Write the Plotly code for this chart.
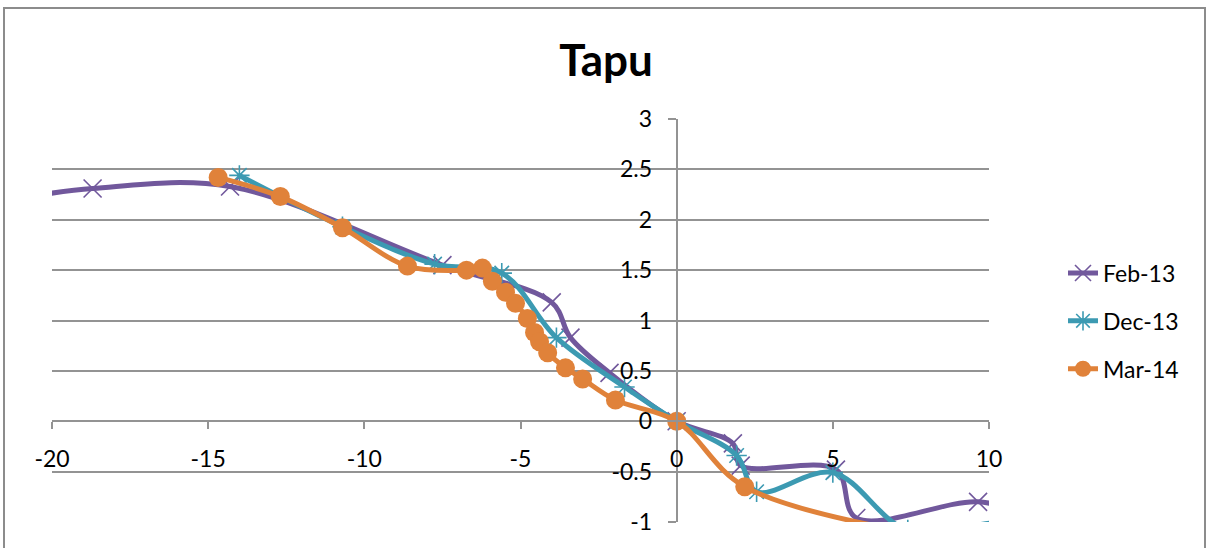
import plotly.graph_objects as go

# ---- data ----
feb13_x = [-21.5, -18.7, -14.3, -7.5, -4.0, -3.4, -2.15, 0.0, 1.8, 2.05, 5.1, 5.75, 9.65, 11.5]
feb13_y = [2.19, 2.31, 2.33, 1.55, 1.18, 0.83, 0.48, 0.0, -0.22, -0.44, -0.48, -0.96, -0.80, -0.95]

dec13_x = [-14.0, -10.7, -7.75, -5.6, -3.85, -1.67, 0.0, 1.92, 2.56, 5.0, 7.4, 10.3, 13.0]
dec13_y = [2.44, 1.93, 1.56, 1.47, 0.83, 0.34, 0.0, -0.34, -0.70, -0.51, -1.08, -1.005, -1.005]

mar14_x = [-14.68, -12.69, -10.7, -8.62, -6.73, -6.22, -5.9, -5.48, -5.16, -4.78, -4.55,
           -4.39, -4.13, -3.56, -3.01, -1.96, 0.0, 2.18, 8.5]
mar14_y = [2.42, 2.23, 1.92, 1.54, 1.50, 1.52, 1.39, 1.28, 1.17, 1.02, 0.88,
           0.79, 0.68, 0.53, 0.42, 0.21, 0.0, -0.65, -1.16]

series_names = ["Feb-13", "Dec-13", "Mar-14"]

x_tick_vals = [-20, -15, -10, -5, 0, 5, 10]
x_tick_text = ["-20", "-15", "-10", "-5", "0", "5", "10"]
y_tick_vals = [3, 2.5, 2, 1.5, 1, 0.5, 0, -0.5, -1]
y_tick_text = ["3", "2.5", "2", "1.5", "1", "0.5", "0", "-0.5", "-1"]

title_text = "Tapu"

# ---- styling ----
PURPLE = "#71589C"
TEAL = "#3C9AB2"
ORANGE = "#E0823A"
GRID = "#939393"
FONT = "Lato"
FS = 23

W, H = 1208, 548
L, R, T, B = 52, 219, 119, 26
PW = W - L - R
PH = H - T - B

def px_to_paper_x(px):
    return (px - L) / PW

def px_to_paper_y(py):
    return (H - B - py) / PH

fig = go.Figure()

fig.add_trace(go.Scatter(
    x=feb13_x, y=feb13_y, name=series_names[0], legendgroup="a",
    mode="lines+markers",
    line=dict(color=PURPLE, width=5, shape="spline", smoothing=1.0),
    marker=dict(symbol="x-thin-open", size=18, color=PURPLE,
                line=dict(color=PURPLE, width=1.6)),
))
fig.add_trace(go.Scatter(
    x=dec13_x, y=dec13_y, name=series_names[1], legendgroup="b",
    mode="lines+markers",
    line=dict(color=TEAL, width=5, shape="spline", smoothing=1.0),
    marker=dict(symbol="asterisk-open", size=17, color=TEAL,
                line=dict(color=TEAL, width=1.6)),
))
fig.add_trace(go.Scatter(
    x=mar14_x, y=mar14_y, name=series_names[2], legendgroup="c",
    mode="lines+markers",
    line=dict(color=ORANGE, width=5, shape="spline", smoothing=1.0),
    marker=dict(symbol="circle", size=19, color=ORANGE, line=dict(width=0)),
))

fig.update_layout(
    width=W, height=H,
    margin=dict(l=L, r=R, t=T, b=B),
    paper_bgcolor="white", plot_bgcolor="white",
    font=dict(family=FONT, size=FS, color="black"),
    title=dict(text=f"<b>{title_text}</b>", font=dict(family=FONT, size=44, color="black"),
               x=606 / W, xref="container", xanchor="center",
               y=1 - 61 / H, yref="container", yanchor="middle"),
    xaxis=dict(range=[-20, 10], tickvals=x_tick_vals, ticktext=x_tick_text,
               anchor="free", position=0.25,
               showline=True, linecolor=GRID, linewidth=2,
               ticks="outside", ticklen=7, tickwidth=2, tickcolor=GRID,
               ticklabelstandoff=10,
               showgrid=False, zeroline=False,
               tickfont=dict(family=FONT, size=FS, color="black")),
    yaxis=dict(range=[-1, 3], tickvals=y_tick_vals, ticktext=y_tick_text,
               anchor="free", position=20 / 30,
               showline=True, linecolor=GRID, linewidth=2,
               ticks="outside", ticklen=8, tickwidth=2, tickcolor=GRID,
               ticklabelstandoff=11,
               showgrid=True, gridcolor=GRID, gridwidth=2,
               zeroline=False,
               tickfont=dict(family=FONT, size=FS, color="black")),
    legend=dict(x=px_to_paper_x(1063), xanchor="left",
                y=px_to_paper_y(321), yanchor="middle",
                font=dict(family=FONT, size=FS, color="black"),
                tracegroupgap=15, bgcolor="rgba(0,0,0,0)"),
    showlegend=True,
    shapes=[dict(type="rect", xref="paper", yref="paper",
                 x0=px_to_paper_x(4), x1=px_to_paper_x(1205),
                 y0=px_to_paper_y(580), y1=px_to_paper_y(8),
                 line=dict(color="#8c8c8c", width=2), fillcolor="rgba(0,0,0,0)",
                 layer="below")],
)

fig.write_html("out.html")
